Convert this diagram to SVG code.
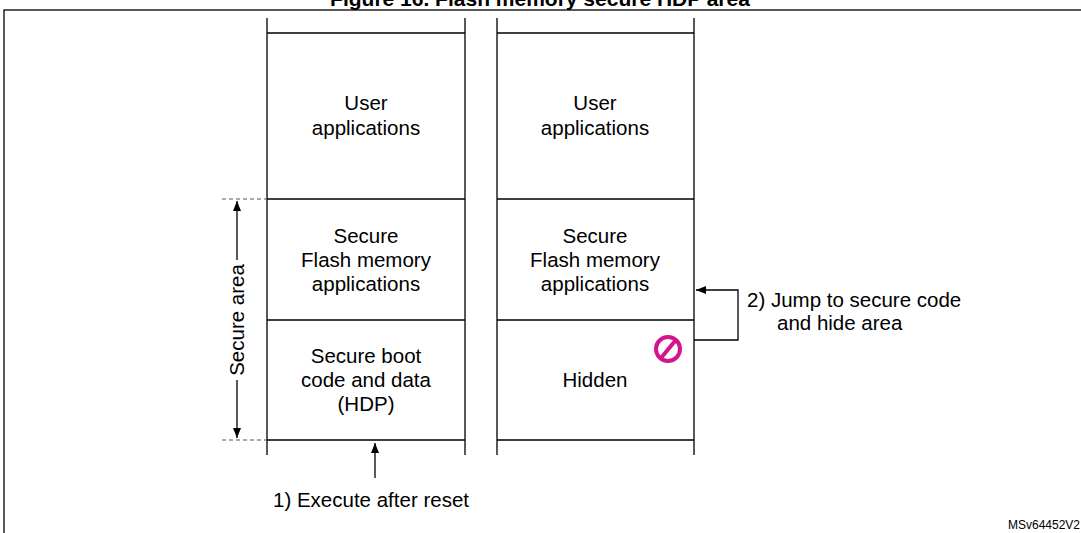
<svg xmlns="http://www.w3.org/2000/svg" width="1081" height="533" viewBox="0 0 1081 533">
<style>
text{font-family:"Liberation Sans",Arial,sans-serif;font-size:20.5px;fill:#000}
.c{text-anchor:middle}
.l{stroke:#000;stroke-width:1.3;fill:none}
.d{stroke:#555;stroke-width:1;stroke-dasharray:4,3;fill:none}
</style>
<defs>
<marker id="a" markerWidth="10" markerHeight="8" refX="10" refY="4" orient="auto" markerUnits="userSpaceOnUse"><path d="M0,0L10,4L0,8z" fill="#000"/></marker>
</defs>
<rect width="1081" height="533" fill="#fff"/>
<text x="540" y="6" class="c" style="font-weight:bold;font-size:21px">Figure 16. Flash memory secure HDP area</text>
<rect x="4" y="10" width="1090" height="530" class="l"/>
<g id="col1">
<path class="l" d="M267,18V455M465,18V455M267,33H465M267,199H465M267,320H465M267,440H465"/>
</g>
<g id="col2">
<path class="l" d="M497,18V455M694,18V455M497,33H694M497,199H694M497,320H694M497,440H694"/>
</g>
<g id="n1"><text x="366" y="110" class="c">User</text><text x="366" y="135" class="c">applications</text></g>
<g id="n2"><text x="366" y="243" class="c">Secure</text><text x="366" y="267" class="c">Flash memory</text><text x="366" y="291" class="c">applications</text></g>
<g id="n3"><text x="366" y="363" class="c">Secure boot</text><text x="366" y="387" class="c">code and data</text><text x="366" y="411" class="c">(HDP)</text></g>
<g id="n4"><text x="595" y="110" class="c">User</text><text x="595" y="135" class="c">applications</text></g>
<g id="n5"><text x="595" y="243" class="c">Secure</text><text x="595" y="267" class="c">Flash memory</text><text x="595" y="291" class="c">applications</text></g>
<g id="n6"><text x="595" y="387" class="c">Hidden</text>
<circle cx="668" cy="349" r="12" fill="none" stroke="#d4148a" stroke-width="4"/><path d="M661,358L675,341" stroke="#d4148a" stroke-width="4"/></g>
<g id="connectors">
<path class="d" d="M222,199H267M222,440H267"/>
<path class="l" d="M237,260V201" marker-end="url(#a)"/>
<path class="l" d="M237,380V438" marker-end="url(#a)"/>
<path class="l" d="M375,478V443" marker-end="url(#a)"/>
<path class="l" d="M694,340H738V290H696" marker-end="url(#a)"/>
</g>
<text transform="translate(244,320) rotate(-90)" class="c">Secure area</text>
<text x="273" y="507">1) Execute after reset</text>
<text x="747" y="307">2) Jump to secure code</text>
<text x="777" y="330">and hide area</text>
<text x="1008" y="529" style="font-size:12px">MSv64452V2</text>
</svg>
